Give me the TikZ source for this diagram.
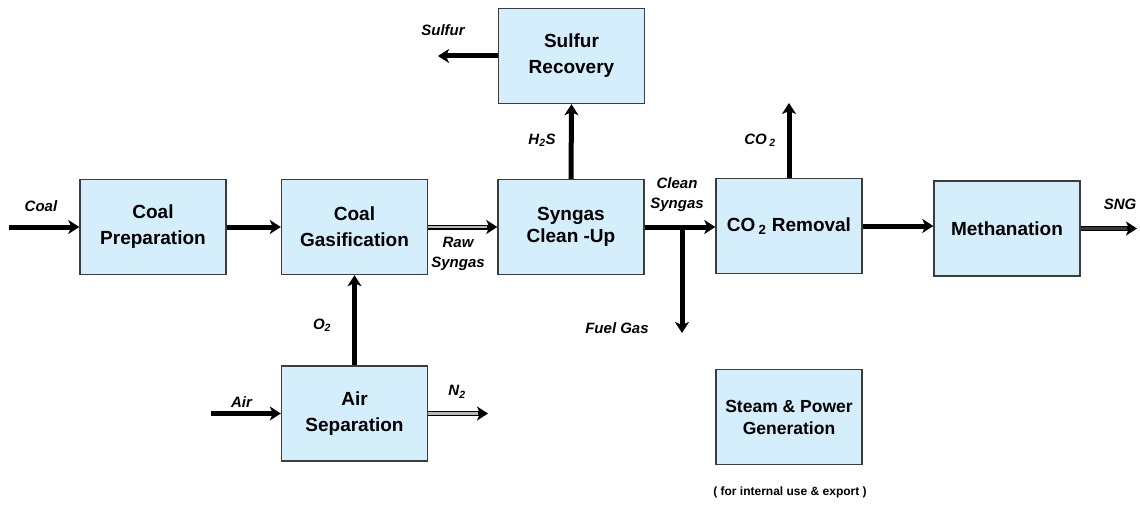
\documentclass[tikz,border=0pt]{standalone}
\usepackage{fontspec}
\setmainfont{Liberation Sans}
\usetikzlibrary{arrows.meta}
\definecolor{boxfill}{HTML}{D5EEFC}
\definecolor{boxline}{HTML}{3C3C3C}
\begin{document}
\begin{tikzpicture}[x=1pt,y=-1pt,
  proc/.style={draw=boxline, line width=1.4pt, fill=boxfill, minimum width=146pt, minimum height=95pt, inner sep=0pt, align=center, font=\fontsize{19}{26}\selectfont\bfseries},
  lbl/.style={font=\fontsize{15}{20}\selectfont\bfseries\itshape, align=center, inner sep=0pt},
  flow/.style={line width=5pt, -{Stealth[length=11pt,width=14pt,inset=3pt]}},
  hollowcore/.style={line width=2.6pt, draw=gray!55, shorten >=10pt},
]
\useasboundingbox (0,0) rectangle (1140,505);

% process boxes
\node[proc] (prep) at (153,227) {Coal\\Preparation};
\node[proc] (gasif) at (354.5,227) {Coal\\Gasification};
\node[proc, font=\fontsize{19}{22}\selectfont\bfseries] (clean) at (571,227) {Syngas\\Clean -Up};
\node[proc] (sulfur) at (571.5,56) {Sulfur\\Recovery};
\node[proc] (co2) at (789,226) {CO\,\textsubscript{2} Removal};
\node[proc] (meth) at (1007,228.5) {Methanation};
\node[proc] (asu) at (354.5,413.5) {Air\\Separation};
\node[proc, font=\fontsize{17.5}{22}\selectfont\bfseries] (steam) at (789,417) {Steam \& Power\\Generation};

% free ends
\coordinate (coalin) at (9,227);
\coordinate (airin) at (211,413.5);
\coordinate (n2out) at (488,413.5);
\coordinate (sulfout) at (438,56);
\coordinate (co2out) at (789,103);
\coordinate (sngout) at (1137,228.5);
\coordinate (br) at (682,225);
\coordinate (fuel) at (682,333);

% connectors
\draw[flow] (coalin) -- (prep.west);
\draw[flow] (prep.east) -- (gasif.west);
\draw[flow] (gasif.east) -- (clean.west);
\draw[hollowcore] (gasif.east) -- (clean.west);
\draw[flow] (clean.east) -- (clean.east -| co2.west);
\draw[flow] (br) -- (fuel);
\draw[flow] (clean.north) -- (sulfur.south);
\draw[flow] (sulfur.west) -- (sulfout);
\draw[flow] (co2.north) -- (co2out);
\draw[flow] (co2.east) -- (co2.east -| meth.west);
\draw[flow] (meth.east) -- (sngout);
\draw[hollowcore, draw=gray!45!black] (meth.east) -- (sngout);
\draw[flow] (asu.north) -- (gasif.south);
\draw[flow] (airin) -- (asu.west);
\draw[flow] (asu.east) -- (n2out);
\draw[hollowcore] (asu.east) -- (n2out);

% labels
\node[lbl] (lcoal) at (41,206) {Coal};
\node[lbl] (lraw) at (458,253.5) {Raw\\Syngas};
\node[lbl] (lclean) at (677,195) {Clean\\Syngas};
\node[lbl] (lsulf) at (443,30) {Sulfur};
\node[lbl] (lh2s) at (542,140) {H\textsubscript{2}S};
\node[lbl] (lco2) at (760,140) {CO\,\textsubscript{2}};
\node[lbl] (lsng) at (1120,204) {SNG};
\node[lbl] (lo2) at (322,325) {O\textsubscript{2}};
\node[lbl] (lfuel) at (617,328) {Fuel Gas};
\node[lbl] (lair) at (241.5,402) {Air};
\node[lbl] (ln2) at (457,392) {N\textsubscript{2}};
\node[font=\fontsize{12}{14}\selectfont\bfseries, inner sep=0pt] (note) at (790,492) {( for internal use \& export )};
\end{tikzpicture}
\end{document}
